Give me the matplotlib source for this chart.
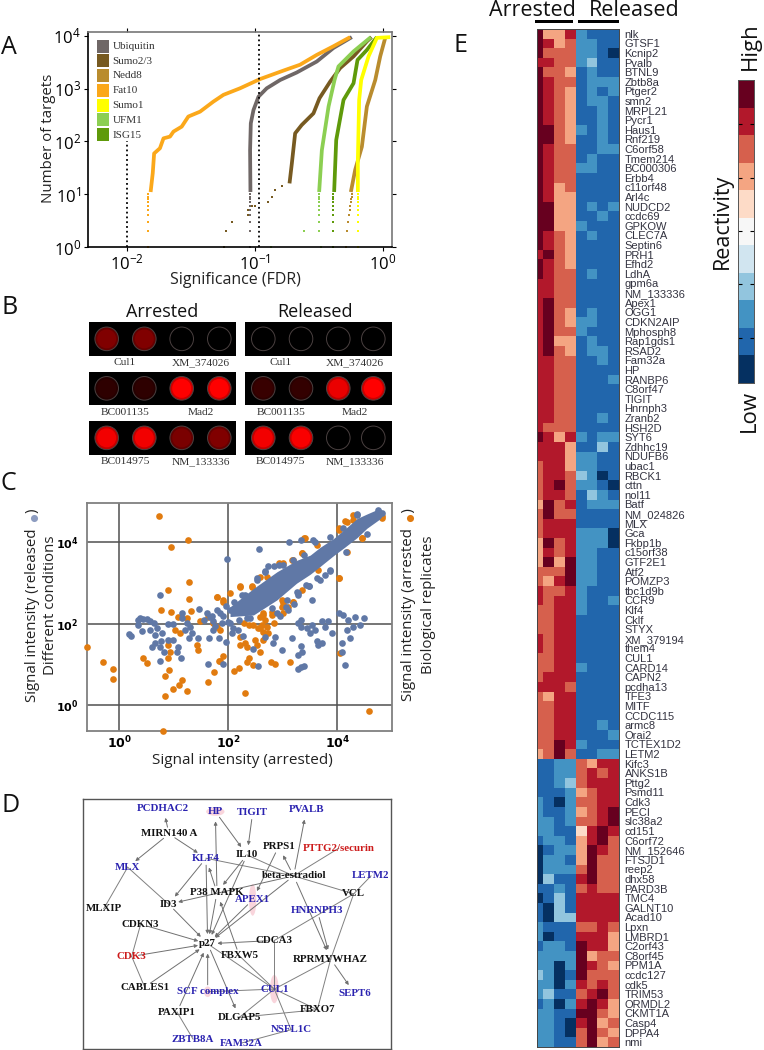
import numpy as np
import matplotlib
matplotlib.use("Agg")
import matplotlib.pyplot as plt
from matplotlib.colors import ListedColormap
from matplotlib.patches import Rectangle, Circle, Ellipse

W, H = 764, 1050
SANS = "Open Sans"
plt.rcParams['font.family'] = [SANS, 'DejaVu Sans']
plt.rcParams['mathtext.default'] = 'regular'

############ panel A data: significance curves ############
fat10_fdr = [.0153, .0159, .0163, .0181, .0193, .0217, .0231, .0268, .0302, .0373, .0474, .0569, .0767, .110, .168, .226, .306, .413, .558]
fat10_n = [11, 25, 59, 74, 114, 123, 153, 190, 295, 365, 565, 760, 1010, 1510, 2190, 2820, 4340, 6310, 9400]
ubiquitin_fdr = [.0925, .0919, .0931, .0977, .107, .124, .158, .213, .306, .413, .575]
ubiquitin_n = [11, 68, 220, 392, 702, 1010, 1450, 2010, 3250, 5860, 9400]
sumo23_fdr = [.187, .195, .207, .233, .288, .321, .389, .466, .593, .754, .82]
sumo23_n = [16, 38, 142, 204, 339, 655, 1350, 2440, 4060, 7800, 9400]
nedd8_fdr = [.565, .611, .689, .754, .877, .959, 1.05]
nedd8_n = [11, 29, 79, 457, 1450, 4060, 9100]
sumo1_fdr = [.641, .641, .656, .681, .777, .903, 1.15]
sumo1_n = [11, 44, 607, 1450, 4060, 9100, 9400]
ufm1_fdr = [.319, .335, .378, .421, .452, .593, .811]
ufm1_n = [11, 68, 457, 1450, 2620, 5040, 9400]
isg15_fdr = [.418, .434, .495, .593, .637, .754, .903]
isg15_n = [11, 106, 607, 1260, 3470, 5370, 9400]

low_n = [1, 2, 3, 4, 5, 6, 7, 8, 9, 10]
fat10_low = [.0145] * 10
ubiquitin_low = [.0925] * 10
sumo1_low = [.641] * 10
ufm1_low = [.33, .319, .319, .319, .319, .319, .319, .319, .319, .319]
isg15_low = [.413] * 10
nedd8_low = [.52, .525, .54, .55, .555, .56, .565, .57, .575, .58]
sumo23_low_fdr = [.0575, .0597, .0659, .089, .089, .095, .10, .128, .136, .144, .163]
sumo23_low_n = [1, 2, 3, 4, 5, 6, 6, 7.2, 8.9, 11.9, 14.4]
ufm1_extra_fdr = [.245, .135]
ufm1_extra_n = [2, 1]

curve_names = ['Ubiquitin', 'Sumo2/3', 'Nedd8', 'Fat10', 'Sumo1', 'UFM1', 'ISG15']
curve_colors = ['#6f6766', '#775a21', '#b98c2e', '#fba81a', '#ffff00', '#8ccf52', '#5f9a0a']

############ panel B data: well brightness ############
well_labels = [['Cul1', 'XM_374026'], ['BC001135', 'Mad2'], ['BC014975', 'NM_133336']]
arrested_wells = [[.50, .50, 0, 0], [.18, .18, 1, 1], [.95, .95, .48, .50]]
released_wells = [[0, 0, 0, 0], [.22, .20, .92, 1], [.95, .98, 0, 0]]

############ panel C data: log10 of signal intensities ############
orange_x = [.72, 1.25, .94, 1.28, .89, 1.28, .76, .94, 1.31, -.59, -.30, -.12, -.12, .44, .51, .89, .91, .84, 1.15, 1.10, .98, 1.24, .84, .80,
            1.63, 1.73, 1.85, 1.90, 1.82, 2.10, 2.19, 2.31, 2.34, 2.37, 2.46, 2.78, 2.86, 3.13, 4.57, 4.02, 4.05, 1.42, 1.45, .90, .93, 1.02, 1.08,
            1.80, 1.91, 2.21, 2.30, 2.21, 2.34, 2.49, 2.52, 2.58, 2.22, 2.64, 2.58, 2.64, 2.67, 2.61, 2.70, 2.64, 2.73, 2.55, 2.46, 2.37, 2.28, 2.83,
            2.80, 3.01, 3.01, 3.19, 3.19, 3.39, 3.35, 3.62, 4.02, 4.14, 4.29, 4.45, 4.81, 2.43, 2.70, 3.01, 1.79, 1.85, 1.72, 1.63, 1.48, 1.24, 1.11,
            3.41, 2.92, 3.16, 3.35, 4.02, 4.17, 4.45, 4.02, 3.10, 3.19, 2.98, 3.35, 3.65, 4.17, 4.81, 2.43, 2.58, 2.21, 2.03, 1.79, 1.91, 4.29, 2.64, 2.58, 2.98, 2.80]
orange_y = [4.64, 4.07, 3.89, 3.04, 2.84, 2.61, 2.34, 2.28, 2.32, 1.43, 1.07, .89, .65, 1.17, 1.03, 1.16, .87, .73, .62, .50, .39, .34, .24, -.62,
            .57, .82, 1.10, 1.21, 1.10, .84, .92, .30, 1.07, 1.16, .98, 1.06, 1.02, 1.07, -.13, 3.13, 1.28, 1.48, 1.36, 1.48, 1.32, 1.85, 2.18,
            2.67, 2.55, 2.92, 1.52, 1.48, 1.44, 1.61, 1.48, 1.32, 1.69, 1.61, 2.18, 2.26, 2.10, 1.98, 1.93, 1.81, 1.77, 1.89, 1.98, 1.98, 2.02, 2.02,
            2.22, 2.26, 2.51, 2.55, 3.57, 4.11, 3.74, 3.94, 4.31, 4.52, 4.56, 4.11, 4.64, 2.92, 3.16, 3.49, 1.93, 1.85, 2.02, 2.18, 2.06, 2.14, 1.77,
            4.10, 3.49, 3.57, 3.73, 4.35, 4.51, 4.10, 3.12, 2.42, 2.55, 2.42, 2.83, 3.32, 3.77, 4.59, 2.91, 3.16, 2.91, 2.75, 2.67, 2.59, 4.68, 2.22, 1.89, 2.59, 2.30]
blue_x = [1.97, 2.56, 3.11, 3.34, 3.56, .75, 1.46, .17, .21, .35, .38, .44, .50, .56, .64, .35, .41, .56, .65, .69, .79, .90, .99,
          .65, .59, .75, .81, .77, .90, .99, 1.08, 1.05, .75, 1.13, 1.62, 1.91, 1.14, 1.14, 1.24, 1.30, 1.20, 1.33, 1.27, 1.45,
          1.60, 1.66, 1.72, 1.65, 1.72, 1.82, 1.96, 1.88, 2.03, 2.09, 2.18, 2.26, 2.06, 2.46, 2.55, 2.68, 2.86, 2.81, 2.98, 3.17, 3.28, 3.34, 3.35, 3.39, 3.28, 3.34,
          3.34, 3.28, 3.34, 3.44, 3.53, 3.59, 3.50, 3.71, 3.83, 3.77, 3.90, 4.02, 4.11, 4.20, 4.33, 4.48, 4.42, 4.29, 4.17, 4.23, 4.08, 4.08, 4.13, 3.63, 3.71, 3.65,
          3.87, 3.53, 3.77, 3.47, 3.28, 2.73, 2.92, 2.67, 2.52, 4.35,
          2.25, 2.52, 2.67, 2.83, 3.01, 3.19, 3.38, 3.59, 3.87, 4.11, 4.36, 2.03, 1.85, 2.34, 2.89, 3.07, 3.27, 3.47, 3.68, 3.87, 4.16, 4.54, 4.75, 4.81, 4.75,
          1.70, 1.80, 1.95, 2.10, 2.15, 2.30, 2.40, 2.95, 3.10, 3.20, 1.55, 1.90, 2.20, 2.00, 1.75, 3.42, 3.62, 3.25, 3.05, 2.80]
blue_y = [3.59, 3.84, 4.02, 4.05, 4.05, 2.72, 2.36, 1.75, 1.71, 2.10, 2.14, 2.11, 2.11, 2.06, 2.02, 1.98, 1.83, 1.85, 1.73, 1.89, 1.77, 2.0, 2.0,
          1.52, 1.43, 1.44, 1.32, 1.57, 1.61, 1.61, 1.44, 1.32, 1.08, 1.16, 1.02, 1.01, 2.26, 2.14, 2.02, 1.93, 1.85, 1.77, 1.65, 1.65,
          2.26, 2.18, 2.06, 1.65, 1.85, 1.65, 1.55, 2.02, 2.02, 1.89, 1.85, 1.71, 1.77, 1.39, .97, 1.67, 1.69, 1.52, 1.36, 1.65, 1.24, 1.46, 1.32, .97, .89, .95,
          2.10, 2.02, 1.93, 1.89, 1.98, 1.85, 1.77, 2.06, 2.06, 1.93, 1.77, 2.26, 2.22, 2.10, 2.18, 2.14, 1.98, 1.93, 1.85, 1.65, 1.52, 1.30, .99, 1.57, 1.52, 1.48,
          3.33, 2.59, 3.20, 2.92, 2.75, 3.41, 3.45, 3.29, 3.12, 4.70,
          2.71, 3.08, 3.28, 3.41, 3.45, 3.57, 3.69, 4.02, 4.14, 4.35, 4.68, 2.34, 2.26, 2.14, 2.26, 2.59, 2.71, 2.93, 3.08, 3.31, 3.77, 4.22, 4.72, 4.72, 4.80,
          2.20, 2.35, 2.45, 2.55, 2.30, 2.70, 2.15, 2.20, 2.35, 2.50, 2.10, 2.20, 2.10, 2.05, 1.95, 2.95, 3.12, 2.78, 2.42, 2.40]
band_x = [2.03, 2.46, 2.89, 3.25, 3.50, 3.68, 3.93, 4.11, 4.36, 4.54, 4.78, 4.81]
band_hi = [2.42, 2.87, 3.28, 3.56, 3.69, 3.88, 4.10, 4.30, 4.59, 4.70, 4.84, 4.80]
band_lo = [2.18, 2.22, 2.59, 3.00, 3.22, 3.41, 3.68, 3.86, 4.12, 4.35, 4.58, 4.63]

############ panel D data: network ############
net_nodes = {
    'PCDHAC2': (489, 85, 'b'), 'HP': (645, 95, 'b'), 'TIGIT': (757, 98, 'b'), 'PVALB': (918, 90, 'b'),
    'MIRN140 A': (506, 162, 'k'), 'PRPS1': (835, 200, 'k'), 'PTTG2/securin': (1015, 205, 'r'), 'IL10': (740, 225, 'k'),
    'KLF4': (617, 235, 'b'), 'MLX': (382, 262, 'b'), 'beta-estradiol': (880, 288, 'k'), 'LETM2': (1112, 288, 'b'),
    'P38 MAPK': (650, 338, 'k'), 'APEX1': (757, 360, 'b'), 'VCL': (1060, 342, 'k'), 'ID3': (505, 373, 'k'),
    'MLXIP': (310, 387, 'k'), 'HNRNPH3': (951, 393, 'b'), 'CDKN3': (421, 433, 'k'), 'p27': (622, 492, 'k'),
    'CDCA3': (822, 482, 'k'), 'FBXW5': (717, 528, 'k'), 'CDK3': (394, 530, 'r'), 'RPRMYWHAZ': (991, 538, 'k'),
    'CABLES1': (433, 622, 'k'), 'SCF complex': (622, 636, 'b'), 'CUL1': (822, 628, 'b'), 'SEPT6': (1062, 640, 'b'),
    'PAXIP1': (530, 697, 'k'), 'FBXO7': (951, 690, 'k'), 'DLGAP5': (717, 713, 'k'), 'NSFL1C': (872, 750, 'b'),
    'ZBTB8A': (578, 778, 'b'), 'FAM32A': (724, 790, 'b'),
}
net_arrows = [('MIRN140 A', 'PCDHAC2'), ('MIRN140 A', 'MLX'), ('MIRN140 A', 'KLF4'), ('KLF4', 'ID3'), ('KLF4', 'p27'),
              ('P38 MAPK', 'HP'), ('P38 MAPK', 'KLF4'), ('HP', 'IL10'), ('TIGIT', 'IL10'), ('IL10', 'P38 MAPK'), ('IL10', 'p27'),
              ('beta-estradiol', 'PVALB'), ('beta-estradiol', 'PRPS1'), ('beta-estradiol', 'ID3'), ('PRPS1', 'APEX1'),
              ('beta-estradiol', 'RPRMYWHAZ'), ('beta-estradiol', 'p27'), ('APEX1', 'p27'), ('P38 MAPK', 'p27'),
              ('HNRNPH3', 'RPRMYWHAZ'), ('CDCA3', 'p27'), ('CDKN3', 'p27'), ('CDK3', 'p27'), ('CABLES1', 'p27'),
              ('SCF complex', 'p27'), ('PAXIP1', 'p27'), ('p27', 'DLGAP5'), ('FBXW5', 'P38 MAPK'), ('ID3', 'p27'),
              ('RPRMYWHAZ', 'SEPT6')]
net_lines = [('MLX', 'MLXIP'), ('MLX', 'ID3'), ('IL10', 'beta-estradiol'), ('KLF4', 'beta-estradiol'), ('beta-estradiol', 'PTTG2/securin'),
             ('beta-estradiol', 'VCL'), ('VCL', 'LETM2'), ('VCL', 'RPRMYWHAZ'), ('VCL', 'CDCA3'), ('CDCA3', 'CUL1'), ('CDKN3', 'CDK3'),
             ('CDK3', 'CABLES1'), ('PAXIP1', 'ZBTB8A'), ('FBXW5', 'CUL1'), ('p27', 'CUL1'), ('RPRMYWHAZ', 'CUL1'), ('RPRMYWHAZ', 'FBXO7'),
             ('SCF complex', 'CUL1'), ('CUL1', 'DLGAP5'), ('CUL1', 'FBXO7'), ('CUL1', 'NSFL1C'), ('DLGAP5', 'FBXO7'), ('NSFL1C', 'FAM32A')]
net_pink = [('HP', 55, 25), ('APEX1', 22, 95), ('CUL1', 26, 85), ('SCF complex', 22, 32)]

############ panel E data: heatmap, one digit per cell, a is the top class ############
gene_names = ['nlk', 'GTSF1', 'Kcnip2', 'Pvalb', 'BTNL9', 'Zbtb8a', 'Ptger2', 'smn2', 'MRPL21', 'Pycr1', 'Haus1', 'Rnf219', 'C6orf58',
              'Tmem214', 'BC000306', 'Erbb4', 'c11orf48', 'Arl4c', 'NUDCD2', 'ccdc69', 'GPKOW', 'CLEC7A', 'Septin6', 'PRH1', 'Efhd2', 'LdhA',
              'gpm6a', 'NM_133336', 'Apex1', 'OGG1', 'CDKN2AIP', 'Mphosph8', 'Rap1gds1', 'RSAD2', 'Fam32a', 'HP', 'RANBP6', 'C8orf47', 'TIGIT',
              'Hnrnph3', 'Zranb2', 'HSH2D', 'SYT6', 'Zdhhc19', 'NDUFB6', 'ubac1', 'RBCK1', 'cttn', 'nol11', 'Batf', 'NM_024826', 'MLX', 'Gca',
              'Fkbp1b', 'c15orf38', 'GTF2E1', 'Atf2', 'POMZP3', 'tbc1d9b', 'CCR9', 'Klf4', 'Cklf', 'STYX', 'XM_379194', 'them4', 'CUL1', 'CARD14',
              'CAPN2', 'pcdha13', 'TFE3', 'MITF', 'CCDC115', 'armc8', 'Orai2', 'TCTEX1D2', 'LETM2', 'Kifc3', 'ANKS1B', 'Pttg2', 'Psmd11', 'Cdk3',
              'PECI', 'slc38a2', 'cd151', 'C6orf72', 'NM_152646', 'FTSJD1', 'reep2', 'dhx58', 'PARD3B', 'TMC4', 'GALNT10', 'Acad10', 'Lpxn',
              'LMBRD1', 'C2orf43', 'C8orf45', 'PPM1A', 'ccdc127', 'cdk5', 'TRIM53', 'ORMDL2', 'CKMT1A', 'Casp4', 'DPPA4', 'nmi']
heat_rows = ['a7792111', 'a9782211', 'a8882210', '99882311', 'a8871211', 'a9881222', 'a9871212', 'a9871221', 'a9871121', 'a9871121',
             'aa872121', 'aa871121', 'a9881122', 'a9881211', 'a9882211', 'a9881111', 'a9781111', 'a9771111', 'aa771212', 'aa771121',
             'aa772111', 'a9871211', 'a9871111', '9a871111', 'a9871111', 'a9881211', '99881111', '99881111', '9a881111', '9a871211',
             '9a872211', '9a882111', '9a771211', '9a871221', '99881121', '99881111', '99881112', '99881111', '99881111', '99881111',
             '99881121', '98881111', 'a9792122', '99971131', '99972211', '89972211', '89983201', '89a82210', '89981321', '7a891222',
             '8a881111', '89991111', '89992220', '7a892220', '79892211', '7a7a2211', '888a2211', '879a2211', '98892111', '98992112',
             '88992111', '88991111', '88991111', '98991111', '98991111', '88991111', '88992111', '89991111', '99981111', '87991111',
             '88991111', '88991111', '88991121', '88991112', '88a92111', '78a81122', '11228799', '11228989', '11238999', '11127899',
             '21028899', '2112789a', '2212889a', '221169a9', '122179a8', '01227a98', '02217a88', '02228a88', '03119a88', '11218988',
             '01319999', '10319999', '10339999', '21118898', '20119997', '1221a997', '2222a788', '2202a987', '3201a888', '22029898',
             '231189a8', '12029a97', '2211aa87', '22109a78', '22108a87', '22118a78']
column_edges = [0.4, 1, 2, 3, 4, 5, 6, 7, 8]

# 11 step scale, low to high, same steps on the colour bar
scale_colors = ['#053061', '#2166ac', '#4393c3', '#92c5de', '#d1e5f0', '#f7f7f7', '#fddbc7', '#f4a582', '#d6604d', '#b2182b', '#67001f']
colorbar_ticks = [1.65, 3.59, 5.51, 7.45, 9.39]


def px_axes(x0, y0, x1, y1):
    # axes from pixel box, y counted from the top of the picture
    return fig.add_axes([x0 / W, 1 - y1 / H, (x1 - x0) / W, (y1 - y0) / H])


fig = plt.figure(figsize=(W / 100, H / 100), dpi=100, facecolor='white')

# overlay for labels and small pieces, in picture pixels
ov = fig.add_axes([0, 0, 1, 1], zorder=5)
ov.set_xlim(0, W)
ov.set_ylim(H, 0)
ov.axis('off')
ov.patch.set_alpha(0)

for letter, lx, ly in [('A', 1, 47), ('B', 1, 307), ('C', 1, 483), ('D', 1, 805), ('E', 453, 46)]:
    ov.text(lx, ly, letter, fontsize=18, va='center', ha='left', color='#111111')

#################### Panel A ####################
axa = px_axes(88, 32, 392, 247)
axa.set_xscale('log')
axa.set_yscale('log')
axa.set_xlim(.00495, 1.186)
axa.set_ylim(1, 10 ** 4.07)
curve_data = [(nedd8_fdr, nedd8_n), (sumo23_fdr, sumo23_n), (ufm1_fdr, ufm1_n), (isg15_fdr, isg15_n),
              (sumo1_fdr, sumo1_n), (ubiquitin_fdr, ubiquitin_n), (fat10_fdr, fat10_n)]
curve_cols = [curve_colors[2], curve_colors[1], curve_colors[5], curve_colors[6], curve_colors[4], curve_colors[0], curve_colors[3]]
for (fx, fy), col in zip(curve_data, curve_cols):
    axa.plot(fx, fy, color=col, lw=2.7, solid_capstyle='butt')
low_sets = [(fat10_low, 3), (ubiquitin_low, 0), (sumo1_low, 4), (ufm1_low, 5), (isg15_low, 6), (nedd8_low, 2)]
for lows, i in low_sets:
    axa.scatter(lows, low_n, marker='s', s=3.5, color=curve_colors[i], lw=0, clip_on=False)
axa.scatter(sumo23_low_fdr, sumo23_low_n, marker='s', s=4, color=curve_colors[1], lw=0, clip_on=False)
axa.scatter(ufm1_extra_fdr, ufm1_extra_n, marker='s', s=4, color=curve_colors[5], lw=0, clip_on=False)
axa.plot([.0100, .0100], [1, 100], color='k', ls=':', lw=1.3)
axa.plot([.108, .108], [1, 10 ** 4.07], color='k', ls=':', lw=1.3)
axa.set_xticks([.01, .1, 1])
axa.set_xticklabels(['$10^{-2}$', '$10^{-1}$', '$10^{0}$'], fontsize=12)
axa.set_yticks([1, 10, 100, 1000, 10000])
axa.set_yticklabels(['$10^{0}$', '$10^{1}$', '$10^{2}$', '$10^{3}$', '$10^{4}$'], fontsize=12)
axa.minorticks_off()
axa.tick_params(axis='both', which='major', length=3, width=.8, right=True, top=True, pad=2)
for side in ['top', 'right']:
    axa.spines[side].set_color('#777777')
    axa.spines[side].set_linewidth(1.2)
for side in ['left', 'bottom']:
    axa.spines[side].set_linewidth(1.2)
ov.text(48, 138, 'Number of targets', rotation=90, fontsize=10.8, ha='center', va='center', color='#222222')
ov.text(235, 280, 'Significance (FDR)', fontsize=11.5, ha='center', va='center', color='#222222')
for i, (name, col) in enumerate(zip(curve_names, curve_colors)):
    cy = 46 + i * 14.75
    ov.add_patch(Rectangle((97.3, cy - 6.5), 12, 13, color=col, lw=0))
    ov.text(112.5, cy + .5, name, fontsize=8, family='Liberation Serif', va='center', color='#333333')

#################### Panel B ####################
ov.text(162, 312, 'Arrested', fontsize=13, ha='center', va='center', color='#111111')
ov.text(315, 312, 'Released', fontsize=13, ha='center', va='center', color='#111111')
rect_y = [(321.7, 356), (371.7, 405), (420.7, 455)]
label_y = [362.7, 412.3, 461.7]
panel_b = [(89.3, 236, [106.7, 144.3, 181.7, 219.3], [125, 200.7], arrested_wells),
           (245, 391.7, [263.3, 301, 338.3, 373.3], [280.7, 355], released_wells)]
for x0, x1, well_x, name_x, wells in panel_b:
    for r, (y0, y1) in enumerate(rect_y):
        ov.add_patch(Rectangle((x0, y0), x1 - x0, y1 - y0, color='black', lw=0))
        for wx, v in zip(well_x, wells[r]):
            # darker rim, brighter middle
            ov.add_patch(Circle((wx, (y0 + y1) / 2), 11.8, fc=(v * .8, 0, 0), ec='#4a4040', lw=.7))
            ov.add_patch(Circle((wx, (y0 + y1) / 2), 9.5, fc=(v, 0, 0), lw=0))
        for nx, name in zip(name_x, well_labels[r]):
            ov.text(nx, label_y[r], name, fontsize=8.2, family='Liberation Serif', ha='center', va='center', color='#333333')

#################### Panel C ####################
axc = px_axes(87, 503, 392, 730.7)
axc.set_xscale('log')
axc.set_yscale('log')
axc.set_xlim(10 ** -.593, 10 ** 5.0)
axc.set_ylim(10 ** -.624, 10 ** 4.97)
for v in [1, 100, 10000]:
    axc.axvline(v, color='#505050', lw=1.1, zorder=1)
    axc.axhline(v, color='#505050', lw=1.1, zorder=1)
or_col = '#e17b0f'
bl_col = '#6078a6'
axc.scatter(10 ** np.array(orange_x), 10 ** np.array(orange_y), s=23, color=or_col, lw=0, zorder=3, clip_on=False)
axc.fill_between(10 ** np.array(band_x), 10 ** np.array(band_lo), 10 ** np.array(band_hi), color=bl_col, lw=0, zorder=4)
axc.scatter(10 ** np.array(blue_x), 10 ** np.array(blue_y), s=23, color=bl_col, lw=0, zorder=5, clip_on=False)
axc.set_xticks([1, 100, 10000])
axc.set_yticks([1, 100, 10000])
tick_txt = [r'$\mathbf{10^{0}}$', r'$\mathbf{10^{2}}$', r'$\mathbf{10^{4}}$']
axc.set_xticklabels(tick_txt, fontsize=9)
axc.set_yticklabels(tick_txt, fontsize=8)
axc.minorticks_off()
axc.tick_params(axis='x', which='major', length=0, pad=3)
axc.tick_params(axis='y', which='major', length=0, pad=6)
for side in axc.spines:
    axc.spines[side].set_color('#808080')
    axc.spines[side].set_linewidth(1.3)
ov.text(242, 760, 'Signal intensity (arrested)', fontsize=11, ha='center', va='center', color='#222222')
ov.text(33, 605, 'Signal intensity (released    )', rotation=90, fontsize=10.8, ha='center', va='center', color='#222222')
ov.text(51, 605, 'Different conditions', rotation=90, fontsize=10.8, ha='center', va='center', color='#222222')
ov.text(409, 605, 'Signal intensity (arrested    )', rotation=90, fontsize=10.8, ha='center', va='center', color='#222222')
ov.text(428, 605, 'Biological replicates', rotation=90, fontsize=10.8, ha='center', va='center', color='#222222')
ov.scatter([34], [518], s=26, color='#8d9cc0', lw=0)
ov.scatter([410], [518], s=26, color=or_col, lw=0)

#################### Panel D ####################
axd = px_axes(83, 799, 391, 1049)
axd.set_xlim(248, 1172)
axd.set_ylim(808, 57)
axd.set_xticks([])
axd.set_yticks([])
for side in axd.spines:
    axd.spines[side].set_color('#555555')
    axd.spines[side].set_linewidth(1)
for name, ew, eh in net_pink:
    axd.add_patch(Ellipse(net_nodes[name][:2], ew, eh, color='#f9d5dc', lw=0, zorder=1))
for a, b in net_lines:
    axd.plot([net_nodes[a][0], net_nodes[b][0]], [net_nodes[a][1], net_nodes[b][1]], color='#808080', lw=.7, zorder=2)
for a, b in net_arrows:
    axd.annotate('', xy=net_nodes[b][:2], xytext=net_nodes[a][:2], zorder=2,
                 arrowprops=dict(arrowstyle='-|>', color='#707070', lw=.7, mutation_scale=5, shrinkA=5, shrinkB=7))
node_cols = {'k': '#111111', 'b': '#2a22b0', 'r': '#cc1a1a'}
for name, (nx, ny, c) in net_nodes.items():
    axd.text(nx, ny, name, fontsize=7.8, family='Liberation Serif', weight='bold', ha='center', va='center', color=node_cols[c], zorder=3)

#################### Panel E ####################
heat = np.array([[int(c, 16) for c in row] for row in heat_rows])
cmap = ListedColormap(scale_colors)
axe = px_axes(537, 29, 619, 1047)
axe.pcolormesh(column_edges, np.arange(len(heat) + 1), heat, cmap=cmap, vmin=-.5, vmax=10.5)
axe.set_xlim(column_edges[0], column_edges[-1])
axe.set_ylim(len(heat), 0)
axe.set_xticks([])
axe.set_yticks(np.arange(len(heat)) + .5)
axe.set_yticklabels(gene_names, fontsize=8, family='Liberation Sans', color='#333340')
axe.yaxis.tick_right()
axe.tick_params(axis='y', length=0, pad=4)
for side in axe.spines:
    axe.spines[side].set_color('#444444')
    axe.spines[side].set_linewidth(.7)

ov.text(532, 10, 'Arrested', fontsize=15.5, ha='center', va='center', color='#111111')
ov.text(634, 10, 'Released', fontsize=15.5, ha='center', va='center', color='#111111')
ov.add_patch(Rectangle((535, 20.3), 38, 3, color='black', lw=0))
ov.add_patch(Rectangle((578, 20.3), 41, 3, color='black', lw=0))

axb = px_axes(738, 80, 754, 383)
axb.pcolormesh([0, 1], np.arange(12), np.arange(11).reshape(-1, 1), cmap=cmap, vmin=-.5, vmax=10.5)
axb.set_xticks([])
axb.set_yticks(colorbar_ticks)
axb.set_yticklabels([])
axb.tick_params(axis='y', direction='in', length=3, width=.8, left=True, right=True)
for side in axb.spines:
    axb.spines[side].set_color('#555555')
    axb.spines[side].set_linewidth(.7)
ov.text(750, 46, 'High', rotation=90, fontsize=16, ha='center', va='center', color='#111111')
ov.text(722, 221, 'Reactivity', rotation=90, fontsize=15.5, ha='center', va='center', color='#111111')
ov.text(749, 411, 'Low', rotation=90, fontsize=16, ha='center', va='center', color='#111111')

fig.savefig('out.png', dpi=100)
